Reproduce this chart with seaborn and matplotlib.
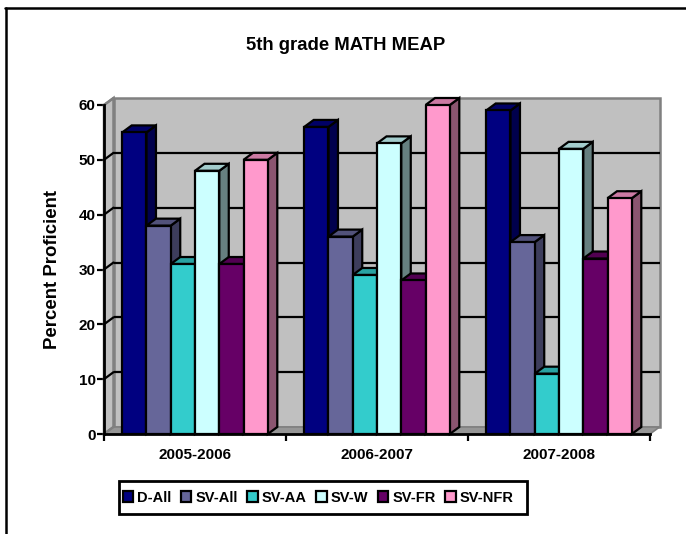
import pandas as pd
import seaborn as sns
import matplotlib.pyplot as plt
from matplotlib.lines import Line2D
from matplotlib.patches import Polygon, Rectangle

years = ['2005-2006', '2006-2007', '2007-2008']
series = ['D-All', 'SV-All', 'SV-AA', 'SV-W', 'SV-FR', 'SV-NFR']
d_all = [55, 56, 59]
sv_all = [38, 36, 35]
sv_aa = [31, 29, 11]
sv_w = [48, 53, 52]
sv_fr = [31, 28, 32]
sv_nfr = [50, 60, 43]

front = ['#000080', '#666699', '#33CCCC', '#CCFFFF', '#660066', '#FF99CC']
side = ['#00004D', '#3D3D5C', '#1F7A7A', '#668080', '#3D003D', '#8B5570']
top = ['#000066', '#52527A', '#29A3A3', '#A3CCCC', '#520052', '#CC7AA3']

rows = []
for name, vals in zip(series, [d_all, sv_all, sv_aa, sv_w, sv_fr, sv_nfr]):
    for yr, v in zip(years, vals):
        rows.append({'year': yr, 'series': name, 'value': v})
df = pd.DataFrame(rows)

sns.set_theme(style='white')
plt.rcParams['font.family'] = ['Liberation Sans', 'DejaVu Sans']
plt.rcParams['font.weight'] = 'bold'

W, H = 686, 534
fig = plt.figure(figsize=(W / 100, H / 100), dpi=100, facecolor='white')
ax = fig.add_axes([104 / W, 1 - 434 / H, 546 / W, 329 / H])
ax.patch.set_visible(False)

sns.barplot(data=df, x='year', y='value', hue='series', hue_order=series,
            palette=front, saturation=1, width=0.8, edgecolor='black',
            linewidth=1.6, ax=ax)
ax.set_xlim(-0.5, 2.5)
ax.set_ylim(0, 60)

# depth of the fake 3d box, in data units
dx = 9.5 / 182
dy = 7 / (329 / 60)

# walls
x0, x1 = -0.5, 2.5
ax.add_patch(Polygon([(x0 + dx, dy), (x1 + dx, dy), (x1 + dx, 60 + dy), (x0 + dx, 60 + dy)],
                     fc='#C0C0C0', ec='#808080', lw=1.8, clip_on=False, zorder=0.5))
ax.add_patch(Polygon([(x0, 0), (x0 + dx, dy), (x0 + dx, 60 + dy), (x0, 60)],
                     fc='#C0C0C0', ec='#808080', lw=1.8, clip_on=False, zorder=0.6))
ax.add_patch(Polygon([(x0, 0), (x1, 0), (x1 + dx, dy), (x0 + dx, dy)],
                     fc='#969696', ec='#808080', lw=1.2, clip_on=False, zorder=0.7))
for v in range(10, 60, 10):
    ax.plot([x0 + dx, x1 + dx], [v + dy, v + dy], color='black', lw=1.6,
            clip_on=False, zorder=0.8, solid_capstyle='butt')
for v in range(0, 70, 10):
    c = '#808080' if v in (0, 60) else 'black'
    ax.plot([x0, x0 + dx], [v, v + dy], color=c, lw=1.6, clip_on=False, zorder=0.9)

# bars: side and top faces from the seaborn rectangles
for h, cont in enumerate(ax.containers):
    for g, bar in enumerate(cont):
        z = 2 + g * 10 + h
        bx, bw, bh = bar.get_x(), bar.get_width(), bar.get_height()
        bar.set_zorder(z + 0.5)
        ax.add_patch(Polygon([(bx + bw, 0), (bx + bw + dx, dy), (bx + bw + dx, bh + dy), (bx + bw, bh)],
                             fc=side[h], ec='black', lw=1.6, clip_on=False, zorder=z))
        ax.add_patch(Polygon([(bx, bh), (bx + bw, bh), (bx + bw + dx, bh + dy), (bx + dx, bh + dy)],
                             fc=top[h], ec='black', lw=1.6, clip_on=False, zorder=z))

# axes
sns.despine(ax=ax, top=True, right=True)
for s in ['left', 'bottom']:
    ax.spines[s].set_color('black')
    ax.spines[s].set_linewidth(2.0)
    ax.spines[s].set_zorder(60)
ax.set_yticks(range(0, 70, 10))
ax.tick_params(axis='y', length=5, width=1.6, color='black', left=True, pad=1, labelsize=11)
ax.set_xticks([0.5 + i - 1 for i in range(4)], minor=True)
ax.tick_params(axis='x', which='minor', length=5, width=1.6, color='black', bottom=True)
ax.tick_params(axis='x', which='major', length=0, pad=10, labelsize=11)
ax.set_xlabel('')
ax.set_ylabel('Percent Proficient', fontsize=13.4, fontweight='bold', color='black')
ax.yaxis.set_label_coords((61 - 104) / 546, (434 - 269) / 329)
for t in ax.get_xticklabels() + ax.get_yticklabels():
    t.set_color('black')
    t.set_fontweight('bold')

fig.text(346 / W, 1 - 45 / H, '5th grade MATH MEAP', ha='center', va='center',
         fontsize=13.3, fontweight='bold', color='black')

sns.move_legend(ax, 'center', bbox_to_anchor=(318 / W, 1 - 497.5 / H),
                bbox_transform=fig.transFigure, ncol=6, title=None, frameon=False,
                fontsize=10.5, handlelength=0.7, handleheight=0.7,
                handletextpad=0.27, columnspacing=0.68, borderpad=0, borderaxespad=0)
leg = ax.get_legend()
leg.set_zorder(70)
for t in leg.get_texts():
    t.set_color('black')
    t.set_fontweight('bold')

# legend box drawn apart, its padding is uneven in the original
fig.add_artist(Rectangle((118.5 / W, 1 - 514 / H), 408.5 / W, 33 / H, fc='none', ec='black',
                         lw=2.0, transform=fig.transFigure))

# chart frame, only left and top are inside the picture
fig.add_artist(Line2D([5.5 / W, 5.5 / W], [0, 1 - 8 / H], color='black', lw=1.8))
fig.add_artist(Line2D([5 / W, 1], [1 - 8 / H, 1 - 8 / H], color='black', lw=1.8))

fig.savefig('out.png', dpi=100)
